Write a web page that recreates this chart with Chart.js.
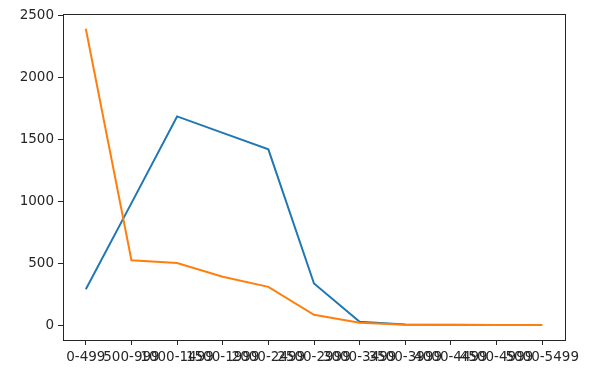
<!DOCTYPE html>
<html>
<head>
<meta charset="utf-8">
<script src="https://cdn.jsdelivr.net/npm/chart.js@4.4.1/dist/chart.umd.min.js"></script>
<style>
  html, body { margin: 0; padding: 0; background: #fff; }
  #wrap { width: 599px; height: 373px; }
</style>
</head>
<body>
<div id="wrap"><canvas id="grafico"></canvas></div>
<script>
// rangos de precio
const categorias = ["0-499", "500-999", "1000-1499", "1500-1999", "2000-2499", "2500-2999",
  "3000-3499", "3500-3999", "4000-4499", "4500-4999", "5000-5499"];
const serieAzul = [290, 985, 1685, 1552, 1419, 336, 27, 6, 3, 2, 1];
const serieNaranja = [2393, 524, 502, 390, 309, 83, 19, 4, 2, 1, 1];
const yTicks = [0, 500, 1000, 1500, 2000, 2500];

const tinta = "#262626";

// marco completo alrededor del area
const marco = {
  id: "marco",
  afterDraw(chart) {
    const { ctx, chartArea: a } = chart;
    ctx.save();
    ctx.strokeStyle = tinta;
    ctx.lineWidth = 1;
    ctx.strokeRect(Math.round(a.left) + 0.5, Math.round(a.top) + 0.5,
      Math.round(a.right - a.left), Math.round(a.bottom - a.top));
    ctx.restore();
  },
};

new Chart(document.getElementById("grafico"), {
  type: "line",
  data: {
    labels: categorias,
    datasets: [
      {
        data: serieAzul,
        borderColor: "#1f77b4",
        borderWidth: 2,
        pointRadius: 0,
        tension: 0,
        order: 1,
      },
      {
        data: serieNaranja,
        borderColor: "#ff7f0e",
        borderWidth: 2,
        pointRadius: 0,
        tension: 0,
        order: 0,
      },
    ],
  },
  options: {
    responsive: true,
    maintainAspectRatio: false,
    animation: false,
    layout: { padding: { left: 0, top: 14, right: 34, bottom: 0 } },
    plugins: { legend: { display: false }, tooltip: { enabled: false } },
    scales: {
      x: {
        type: "category",
        offset: true,
        grid: { drawOnChartArea: false, drawTicks: true, tickLength: 5, color: tinta, offset: false },
        border: { display: true, color: tinta },
        ticks: {
          autoSkip: false,
          maxRotation: 0,
          minRotation: 0,
          padding: 4,
          color: tinta,
          font: { family: "DejaVu Sans", size: 13.5 },
        },
        afterFit(scale) { scale.height = 33; },
      },
      y: {
        min: -120,
        max: 2512,
        afterBuildTicks(scale) { scale.ticks = yTicks.map((v) => ({ value: v })); },
        grid: { drawOnChartArea: false, drawTicks: true, tickLength: 5, color: tinta },
        border: { display: true, color: tinta },
        ticks: {
          padding: 4,
          color: tinta,
          font: { family: "DejaVu Sans", size: 13.5 },
          callback: (v) => String(v),
        },
        afterFit(scale) { scale.width = 63; },
      },
    },
  },
  plugins: [marco],
});
</script>
</body>
</html>
